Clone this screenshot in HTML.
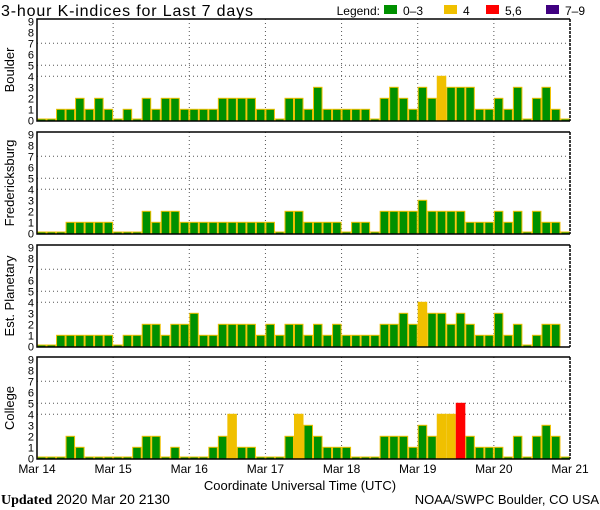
<!DOCTYPE html>
<html><head><meta charset="utf-8">
<style>
html,body{margin:0;padding:0;background:#fff;}
svg{display:block;font-family:"Liberation Sans",sans-serif;}
</style></head>
<body>
<svg id="chart" width="600" height="510" viewBox="0 0 600 510" xmlns="http://www.w3.org/2000/svg">
<text x="1" y="16" font-size="16" fill="#000" textLength="252">3-hour K-indices for Last 7 days</text>
<g font-size="12">
<text x="380" y="15" text-anchor="end">Legend:</text>
<rect x="384" y="5" width="13" height="9" fill="#009000"/>
<text x="403" y="15">0–3</text>
<rect x="444" y="5" width="13" height="9" fill="#f0c000"/>
<text x="463" y="15">4</text>
<rect x="486" y="5" width="13" height="9" fill="#ff0000"/>
<text x="505" y="15">5,6</text>
<rect x="546" y="5" width="13" height="9" fill="#400080"/>
<text x="565" y="15">7–9</text>
</g>
<g id="panels"></g>
<text x="300" y="490" font-size="13" text-anchor="middle">Coordinate Universal Time (UTC)</text>
<text x="1" y="504" font-size="14"><tspan font-family="Liberation Serif, serif" font-weight="bold">Updated</tspan> 2020 Mar 20 2130</text>
<text x="599" y="504" font-size="13" text-anchor="end">NOAA/SWPC Boulder, CO USA</text>
</svg>
<script>
const panelNames = ["Boulder","Fredericksburg","Est. Planetary","College"];
const boulderValues = [0,0,1,1,2,1,2,1,0,1,0,2,1,2,2,1,1,1,1,2,2,2,2,1,1,0,2,2,1,3,1,1,1,1,1,0,2,3,2,1,3,2,4,3,3,3,1,1,2,1,3,0,2,3,1,0];
const fredericksburgValues = [0,0,0,1,1,1,1,1,0,0,0,2,1,2,2,1,1,1,1,1,1,1,1,1,1,0,2,2,1,1,1,1,0,1,1,0,2,2,2,2,3,2,2,2,2,1,1,1,2,1,2,0,2,1,1,0];
const planetaryValues = [0,0,1,1,1,1,1,1,0,1,1,2,2,1,2,2,3,1,1,2,2,2,2,1,2,1,2,2,1,2,1,2,1,1,1,1,2,2,3,2,4,3,3,2,3,2,1,1,3,1,2,0,1,2,2,null];
const collegeValues = [0,0,0,2,1,0,0,0,0,0,1,2,2,0,1,0,0,0,1,2,4,1,1,0,0,0,2,4,3,2,1,1,1,0,0,0,2,2,2,1,3,2,4,4,5,2,1,1,1,0,2,0,2,3,2,0];
const dayLabels = ["Mar 14","Mar 15","Mar 16","Mar 17","Mar 18","Mar 19","Mar 20","Mar 21"];
const yTickLabels = ["0","1","2","3","4","5","6","7","8","9"];
const gridLevels = [4,5,7];

const seriesList = [boulderValues, fredericksburgValues, planetaryValues, collegeValues];
const NS = "http://www.w3.org/2000/svg";
const X0 = 37, X1 = 570, PH = 102;
const panelTops = [19, 132, 245, 357];
const nBars = 56;
const bw = (X1 - X0) / nBars;
function xScale(i){ return X0 + i * bw; }
function yScale(v, bottom){ return bottom - 0.7 - v * 11; }
function colorFor(v){ return v >= 7 ? "#400080" : v >= 5 ? "#ff0000" : v === 4 ? "#f0c000" : "#009000"; }
function mk(tag, attrs, parent){ const e = document.createElementNS(NS, tag); for (const k in attrs) e.setAttribute(k, attrs[k]); parent.appendChild(e); return e; }

const root = document.getElementById("panels");
seriesList.forEach((vals, p) => {
  const top = panelTops[p], bottom = top + PH;
  const g = mk("g", {}, root);
  
  
  gridLevels.forEach(l => {
    const y = yScale(l, bottom);
    const ln = mk("line", {x1:X0, x2:X1, y1:y, y2:y, stroke:"#555", "stroke-width":1, "stroke-dasharray":"1,3"}, g);
    
    
  });
  for (let d = 1; d < 7; d++) {
    const x = xScale(d * 8);
    const ln = mk("line", {x1:x, x2:x, y1:top, y2:bottom, stroke:"#555", "stroke-width":1, "stroke-dasharray":"1,3"}, g);
    
    
  }
  vals.forEach((v, i) => {
    if (v === null) return;
    const x = xScale(i);
    let y = yScale(v, bottom), h = bottom - y;
    if (v === 0) { h = 2; y = bottom - 2; }
    const c = colorFor(v);
    const r = mk("rect", {x:x+0.5, y:y, width:bw-1, height:h, fill:c, stroke: c === "#009000" ? "#f0c000" : c, "stroke-width":1}, g);
    
    
  });
  const fr = mk("path", {d:`M${X1},${top} L${X0},${top} L${X0},${bottom} L${X1},${bottom}`, fill:"none", stroke:"#000", "stroke-width":1.5}, g);
  
  
  const rb = mk("line", {x1:X1, x2:X1, y1:top, y2:bottom, stroke:"#000", "stroke-width":1.5, "stroke-dasharray":"3,1"}, g);
  
  
  yTickLabels.forEach((t, k) => {
    const tx = mk("text", {x:34, y: yScale(k, bottom) + 4, "font-size":11, "text-anchor":"end"}, g);
    tx.textContent = t;
    
    
  });
  const cy = top + PH / 2;
  const tl = mk("text", {x:14, y:cy, "font-size":13, "text-anchor":"middle", transform:`rotate(-90 14 ${cy})`}, g);
  tl.textContent = panelNames[p];
  
  
});
dayLabels.forEach((t, d) => {
  const tx = mk("text", {x: xScale(d * 8), y: 473, "font-size":12, "text-anchor":"middle"}, root);
  tx.textContent = t;
  
  
});
</script>
</body></html>
